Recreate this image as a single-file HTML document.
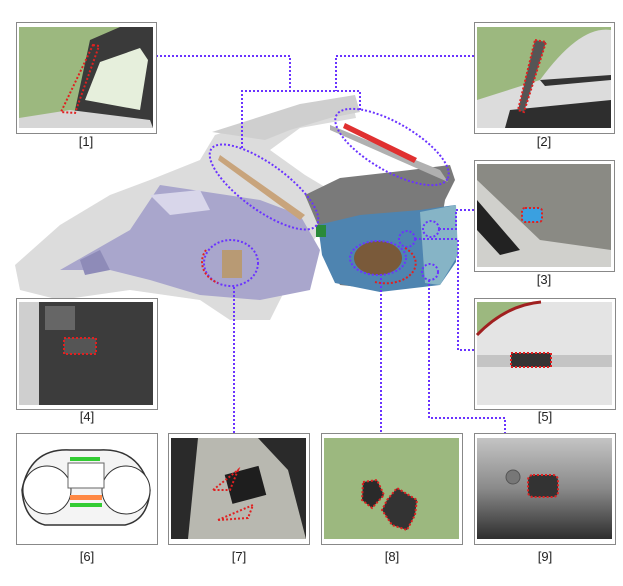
<!DOCTYPE html>
<html><head><meta charset="utf-8"><style>
html,body{margin:0;padding:0;background:#fff;}
svg{display:block;}
text{font-family:"Liberation Sans",sans-serif;font-size:13px;fill:#222;}
</style></head><body>
<svg width="623" height="586" viewBox="0 0 623 586" xmlns="http://www.w3.org/2000/svg">
<!-- car body -->
<g>
<path d="M15,265 L60,225 L110,195 L150,180 L200,160 L215,135 L245,125 L300,112 L352,100 L356,118 L300,128 L270,150 L305,175 L330,190 L320,230 L290,280 L270,320 L230,320 L200,300 L130,290 L60,300 L20,290 Z" fill="#dcdcdc"/>
<path d="M212,132 L300,104 L355,95 L360,112 L330,118 L290,130 L265,140 Z" fill="#cfcfcf"/>
<path d="M60,270 L130,230 L160,185 L260,200 L300,215 L320,250 L310,290 L260,300 L200,295 L150,280 L110,270 Z" fill="#a9a6cc"/>
<path d="M150,195 L200,190 L210,210 L170,215 Z" fill="#d8d6ea"/>
<path d="M80,260 L100,250 L110,270 L85,275 Z" fill="#8e8bb8"/>
<path d="M305,195 L340,178 L410,170 L450,165 L455,180 L445,200 L440,230 L445,265 L430,285 L390,290 L340,285 L330,265 L320,230 Z" fill="#7a7a7a"/>
<path d="M318,225 L360,215 L420,210 L455,205 L456,262 L440,285 L380,292 L335,283 L322,255 Z" fill="#4e84b0"/>
<path d="M420,212 L456,205 L458,255 L440,285 L425,283 Z" fill="#86b4c6"/>
<path d="M330,125 L440,170 L448,182 L330,130 Z" fill="#b0b0b0"/>
<path d="M345,123 L417,158 L414,163 L343,128 Z" fill="#e03030"/>
<path d="M220,155 L305,215 L300,220 L218,160 Z" fill="#c8a47c"/>
<rect x="222" y="250" width="20" height="28" fill="#b89a74"/>
<ellipse cx="378" cy="258" rx="24" ry="17" fill="#7a5a3a"/>
<rect x="316" y="225" width="10" height="12" fill="#2a8a3a"/>
</g>
<!-- connectors -->
<g fill="none" stroke="#6a33ff" stroke-width="2" stroke-dasharray="2,2">
<polyline points="156,56 290,56 290,91"/>
<polyline points="474,56 336,56 336,91"/>
<polyline points="242,148 242,91 360,91 360,112"/>
<polyline points="474,210 456,210 456,229 440,229"/>
<polyline points="415,239 458,239 458,350 474,350"/>
<polyline points="429,280 429,418 505,418 505,433"/>
<polyline points="381,274 381,433"/>
<polyline points="234,287 234,433"/>
<ellipse cx="264" cy="187" rx="65" ry="23" transform="rotate(36 264 187)"/>
<ellipse cx="392" cy="147" rx="64" ry="24" transform="rotate(30 392 147)"/>
<ellipse cx="231" cy="263" rx="27" ry="23"/>
<ellipse cx="378" cy="258" rx="28" ry="17"/>
<circle cx="431" cy="229" r="8"/>
<circle cx="407" cy="239" r="8"/>
<circle cx="430" cy="272" r="8"/>
</g>
<g fill="none" stroke="#e02020" stroke-width="2" stroke-dasharray="2,2">
<path d="M206,250 A27,23 0 0 0 218,283"/>
<path d="M405,248 A30,20 0 0 1 375,282"/>
</g>
<!-- panels -->
<g stroke="#888" stroke-width="1" fill="#fff">
<rect x="16.5" y="22.5" width="140" height="111"/>
<rect x="474.5" y="22.5" width="140" height="111"/>
<rect x="474.5" y="160.5" width="140" height="111"/>
<rect x="16.5" y="298.5" width="141" height="111"/>
<rect x="474.5" y="298.5" width="141" height="111"/>
<rect x="16.5" y="433.5" width="141" height="111"/>
<rect x="168.5" y="433.5" width="141" height="111"/>
<rect x="321.5" y="433.5" width="141" height="111"/>
<rect x="474.5" y="433.5" width="141" height="111"/>
</g>
<!-- [1] -->
<rect x="19" y="27" width="134" height="101" fill="#9cb87f"/>
<path d="M90,40 L120,27 L153,27 L153,128 L70,128 L75,110 Z" fill="#3a3a3a"/>
<path d="M85,100 L100,62 L140,48 L148,60 L140,110 Z" fill="#e6efdc"/>
<path d="M19,118 L70,110 L150,120 L153,128 L19,128 Z" fill="#d6d6d6"/>
<path d="M93,45 L99,46 L75,113 L61,112 Z" fill="none" stroke="#e02020" stroke-width="2" stroke-dasharray="2,2"/>
<!-- [2] -->
<rect x="477" y="27" width="134" height="101" fill="#9cb87f"/>
<path d="M540,80 Q580,25 611,30 L611,128 L477,128 L477,100 Z" fill="#dcdcdc"/>
<path d="M540,80 L611,75 L611,80 L545,86 Z" fill="#333"/>
<path d="M510,110 L611,100 L611,128 L505,128 Z" fill="#2e2e2e"/>
<path d="M535,40 L546,42 L524,112 L518,110 Z" fill="#555" stroke="#e02020" stroke-width="2" stroke-dasharray="2,2"/>
<!-- [3] -->
<rect x="477" y="164" width="134" height="103" fill="#8a8a84"/>
<path d="M477,180 L540,240 L611,250 L611,267 L477,267 Z" fill="#d0d0cc"/>
<path d="M477,200 L520,250 L500,255 L477,230 Z" fill="#222"/>
<rect x="522" y="208" width="20" height="14" rx="3" fill="#3aa0e0" stroke="#e02020" stroke-width="2" stroke-dasharray="2,2"/>
<!-- [4] -->
<rect x="19" y="302" width="134" height="103" fill="#3c3c3c"/>
<rect x="19" y="302" width="20" height="103" fill="#cfcfcf"/>
<rect x="45" y="306" width="30" height="24" fill="#666"/>
<rect x="64" y="338" width="32" height="16" fill="#555" stroke="#e02020" stroke-width="2" stroke-dasharray="2,2"/>
<!-- [5] -->
<rect x="477" y="302" width="135" height="103" fill="#e4e4e4"/>
<path d="M477,302 L536,302 Q496,310 477,335 Z" fill="#9cb87f"/>
<path d="M477,335 Q506,305 541,302" fill="none" stroke="#a02020" stroke-width="3"/>
<rect x="477" y="355" width="135" height="12" fill="#c4c4c4"/>
<rect x="511" y="353" width="40" height="14" fill="#333" stroke="#e02020" stroke-width="2" stroke-dasharray="2,2"/>
<!-- [6] cluster -->
<path d="M22,490 Q30,448 70,450 L100,450 Q140,448 150,490 Q148,520 125,525 L45,525 Q24,520 22,490 Z" fill="#f4f4f4" stroke="#333" stroke-width="1.5"/>
<circle cx="47" cy="490" r="24" fill="#fff" stroke="#333"/>
<circle cx="126" cy="490" r="24" fill="#fff" stroke="#333"/>
<rect x="68" y="463" width="36" height="25" fill="#fff" stroke="#666"/>
<rect x="70" y="457" width="30" height="4" fill="#3c3"/>
<rect x="70" y="495" width="32" height="5" fill="#f84"/>
<rect x="70" y="503" width="32" height="4" fill="#3c3"/>
<!-- [7] -->
<rect x="171" y="438" width="135" height="101" fill="#2a2a2a"/>
<path d="M198,438 L258,438 L288,470 L306,539 L188,539 Z" fill="#b8b8b0"/>
<rect x="228" y="470" width="35" height="30" fill="#1e1e1e" transform="rotate(-15 245 485)"/>
<path d="M213,490 L238,470 L230,490 Z" fill="none" stroke="#e02020" stroke-width="2" stroke-dasharray="2,2"/>
<path d="M218,520 L253,505 L248,518 Z" fill="none" stroke="#e02020" stroke-width="2" stroke-dasharray="2,2"/>
<!-- [8] -->
<rect x="324" y="438" width="135" height="101" fill="#9cb87f"/>
<path d="M363,482 L377,480 L384,495 L372,508 L362,500 Z" fill="#2a2a2a" stroke="#e02020" stroke-width="2" stroke-dasharray="2,2"/>
<path d="M387,500 L397,488 L417,500 L415,515 L407,530 L392,525 L382,510 Z" fill="#333" stroke="#e02020" stroke-width="2" stroke-dasharray="2,2"/>
<!-- [9] -->
<defs><linearGradient id="g9" x1="0" y1="0" x2="0" y2="1"><stop offset="0" stop-color="#c4c4c4"/><stop offset="0.5" stop-color="#8a8a8a"/><stop offset="1" stop-color="#2e2e2e"/></linearGradient></defs>
<rect x="477" y="438" width="135" height="101" fill="url(#g9)"/>
<circle cx="513" cy="477" r="7" fill="#777" stroke="#555"/>
<rect x="528" y="475" width="30" height="22" rx="5" fill="#333" stroke="#e02020" stroke-width="2" stroke-dasharray="2,2"/>
<!-- labels -->
<g text-anchor="middle">
<text x="86" y="146">[1]</text>
<text x="544" y="146">[2]</text>
<text x="544" y="284">[3]</text>
<text x="87" y="421">[4]</text>
<text x="545" y="421">[5]</text>
<text x="87" y="561">[6]</text>
<text x="239" y="561">[7]</text>
<text x="392" y="561">[8]</text>
<text x="545" y="561">[9]</text>
</g>
</svg>
</body></html>
